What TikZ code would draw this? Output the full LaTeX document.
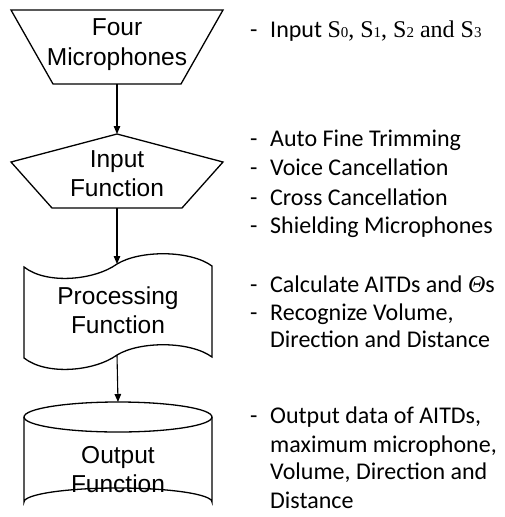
\documentclass[tikz,border=0pt]{standalone}
\usepackage{fontspec}
\setmainfont{Liberation Sans}
\newfontfamily\calfont{Carlito}
\newfontfamily\serfont{Liberation Serif}
\usetikzlibrary{arrows.meta}
\newcommand\mysub[1]{\raisebox{-0.5pt}{\fontsize{15}{15}\selectfont #1}}
\begin{document}
\begin{tikzpicture}[x=1pt,y=-1pt,
  shp/.style={draw=black, line width=1.3pt, line join=miter},
  flow/.style={draw=black, line width=1.1pt, -{Triangle[length=8pt,width=6.5pt]}},
  lbl/.style={anchor=base, inner sep=0pt, font=\fontsize{24.5}{30}\selectfont},
  itm/.style={anchor=base west, inner sep=0pt, font=\calfont\fontsize{24}{28}\selectfont}]
\useasboundingbox (0,0) rectangle (505,517);
\fill[white] (0,0) rectangle (505,517);

% shape 1: inverted trapezoid
\draw[shp] (11,10) -- (223,10) -- (181,84) -- (53,84) -- cycle;
\coordinate (s1b) at (117,84);
\node[lbl] (t1a) at (117,35) {Four};
\node[lbl] (t1b) at (117,65) {Microphones};

% shape 2: pentagon
\draw[shp] (117,134) -- (223,162) -- (182,208) -- (52,208) -- (11,162) -- cycle;
\coordinate (s2t) at (117,134);
\coordinate (s2b) at (117,208);
\node[lbl] (t2a) at (117,167) {Input};
\node[lbl] (t2b) at (117,196) {Function};

% shape 3: tape
\draw[shp] (24,267) .. controls (47,285) and (95,280) .. (117,264)
  .. controls (140,250) and (190,250) .. (212,266)
  -- (212,357)
  .. controls (190,341) and (140,341) .. (117,355)
  .. controls (95,371) and (47,376) .. (24,358) -- cycle;
\coordinate (s3t) at (117,264);
\coordinate (s3b) at (117,355);
\node[lbl] (t3a) at (118,304) {Processing};
\node[lbl] (t3b) at (118,333) {Function};

% shape 4: cylinder
\draw[shp] (24,417) -- (24,502) arc[start angle=180, end angle=360, x radius=94, y radius=14] -- (212,417);
\draw[shp] (118,417) ellipse [x radius=94, y radius=15];
\coordinate (s4t) at (118,402);
\node[lbl] (t4a) at (118,463) {Output};
\node[lbl] (t4b) at (118,492) {Function};

% connectors
\draw[flow] (s1b) -- (s2t);
\draw[flow] (s2b) -- (s3t);
\draw[flow] (s3b) -- (s4t);

% right-hand notes
\node[itm] (d1) at (250,37) {-};
\node[itm] (r1) at (270,37) {Input {\serfont S\mysub{0}, S\mysub{1}, S\mysub{2} and S\mysub{3}}};

\node[itm] (d2) at (250,146) {-};
\node[itm] (r2) at (270,146) {Auto Fine Trimming};
\node[itm] (d3) at (250,175) {-};
\node[itm] (r3) at (270,175) {Voice Cancellation};
\node[itm] (d4) at (250,205) {-};
\node[itm] (r4) at (270,205) {Cross Cancellation};
\node[itm] (d5) at (250,233) {-};
\node[itm] (r5) at (270,233) {Shielding Microphones};

\node[itm] (d6) at (250,292) {-};
\node[itm] (r6) at (270,292) {Calculate AITDs and {\serfont\itshape Θ}s};
\node[itm] (d7) at (250,320) {-};
\node[itm] (r7) at (270,320) {Recognize Volume,};
\node[itm] (r8) at (270,347) {Direction and Distance};

\node[itm] (d9) at (250,423) {-};
\node[itm] (r9) at (270,423) {Output data of AITDs,};
\node[itm] (r10) at (270,452) {maximum microphone,};
\node[itm] (r11) at (270,479) {Volume, Direction and};
\node[itm] (r12) at (270,508) {Distance};
\end{tikzpicture}
\end{document}
